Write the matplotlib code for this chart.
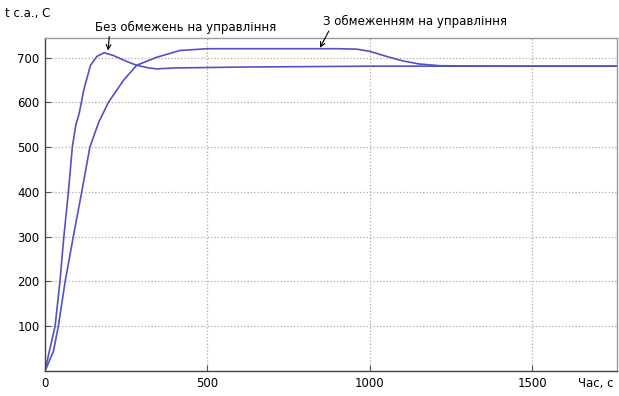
import matplotlib
matplotlib.use("Agg")
import matplotlib.pyplot as plt

# Without control constraint
t_free = [0, 12, 31, 46, 58, 72, 84, 95, 105, 120, 140, 160, 182, 210, 250, 282, 320, 344, 400, 600, 1000, 1760]
v_free = [0, 40, 100, 200, 300, 400, 500, 550, 575, 630, 683, 703, 711, 705, 692, 683, 677, 675, 677, 679, 681, 681]

# With control constraint
t_lim = [0, 26, 41, 62, 87, 113, 138, 165, 195, 241, 282, 344, 415, 497, 700, 900, 960, 1000, 1050, 1100, 1150, 1215, 1400, 1760]
v_lim = [0, 44, 100, 200, 300, 400, 500, 555, 600, 649, 683, 701, 716, 720, 720, 720, 719, 714, 703, 693, 686, 682, 681, 681]

x_ticks = [0, 500, 1000, 1500]
y_ticks = [100, 200, 300, 400, 500, 600, 700]

label_free = "Без обмежень на управління"
label_lim = "З обмеженням на управління"

color = "#5252c2"

fig = plt.figure(figsize=(6.19, 3.96), dpi=100)
ax = fig.add_axes([0.0727, 0.0631, 0.924, 0.841])

ax.plot(t_free, v_free, color=color, lw=1.2)
ax.plot(t_lim, v_lim, color=color, lw=1.2)

ax.set_xlim(0, 1760)
ax.set_ylim(0, 744)
ax.set_xticks(x_ticks)
ax.set_yticks(y_ticks)
ax.tick_params(labelsize=8.5, length=4, direction='in', color='#555555', pad=4)
ax.grid(True, linestyle=':', color='#aaaaaa', lw=0.9)
for s in ['left', 'bottom']:
    ax.spines[s].set_color('#444444')
    ax.spines[s].set_linewidth(1.0)
for s in ['top', 'right']:
    ax.spines[s].set_color('#999999')
    ax.spines[s].set_linewidth(1.0)

ax.annotate(label_free, xy=(194, 716), xytext=(154, 768), fontsize=8.5,
            annotation_clip=False, va='center', ha='left',
            arrowprops=dict(arrowstyle='->', color='black', lw=0.8,
                            shrinkA=0, shrinkB=0, relpos=(0.08, 0.0)))
ax.annotate(label_lim, xy=(846, 722), xytext=(855, 780), fontsize=8.5,
            annotation_clip=False, va='center', ha='left',
            arrowprops=dict(arrowstyle='->', color='black', lw=0.8,
                            shrinkA=0, shrinkB=0, relpos=(0.04, 0.0)))

fig.text(5 / 619, 1 - 13 / 396, "t с.а., С", fontsize=8.5, va='center', ha='left')
fig.text(578 / 619, 1 - 383 / 396, "Час, с", fontsize=8.5, va='center', ha='left')

fig.savefig("out.png", dpi=100)
